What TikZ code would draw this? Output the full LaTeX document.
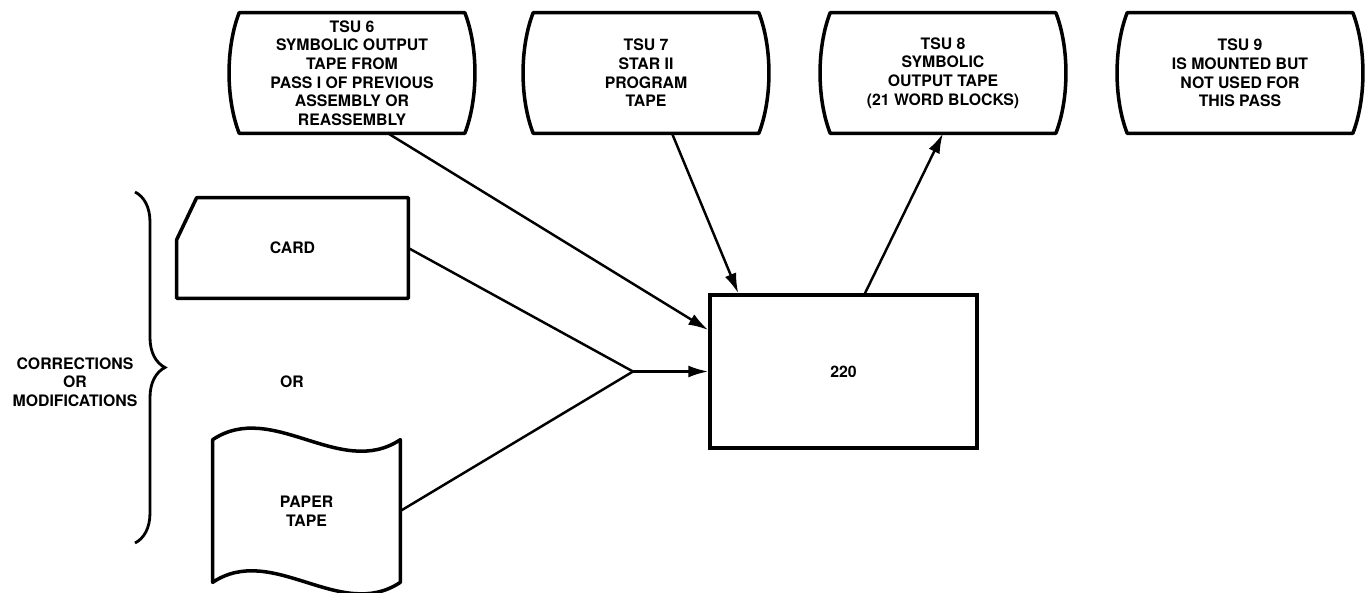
\documentclass[tikz,border=0pt]{standalone}
\usepackage{fontspec}
\setmainfont{TeX Gyre Heros}
\usetikzlibrary{arrows.meta,decorations.pathreplacing}
\tikzset{
  tsu/.style={minimum width=4.5cm, minimum height=2.4cm, inner sep=0pt, align=center},
  cardbox/.style={minimum width=4.62cm, minimum height=2cm, inner sep=0pt},
  tapebox/.style={minimum width=3.74cm, minimum height=2.84cm, inner sep=0pt, align=center},
  unitbox/.style={draw, line width=2pt, minimum width=5.34cm, minimum height=3.06cm, inner sep=0pt},
  shapeline/.style={line width=2pt, line join=round},
  joinline/.style={line width=1.4pt},
  flow/.style={line width=1.4pt, -{Latex[length=4mm,width=2.4mm]}}
}

\begin{document}
\begin{tikzpicture}[x=0.02cm, y=-0.02cm,
  every node/.style={font=\bfseries\fontsize{9}{10.6}\selectfont}]
  \useasboundingbox (0,0) rectangle (1366,592);

  % tape units along the top
  \node[tsu] (tsu6) at (352,73) {TSU 6\\SYMBOLIC OUTPUT\\TAPE FROM\\PASS I OF PREVIOUS\\ASSEMBLY OR\\REASSEMBLY};
  \node[tsu] (tsu7) at (646,73) {TSU 7\\STAR II\\PROGRAM\\TAPE};
  \node[tsu] (tsu8) at (943,73) {TSU 8\\SYMBOLIC\\OUTPUT TAPE\\(21 WORD BLOCKS)};
  \node[tsu] (tsu9) at (1240,73) {TSU 9\\IS MOUNTED BUT\\NOT USED FOR\\THIS PASS};
  \foreach \t in {tsu6,tsu7,tsu8,tsu9}
    \draw[shapeline] (\t.north west) -- (\t.north east)
      .. controls +(0.27cm,-0.7cm) and +(0.27cm,0.7cm) .. (\t.south east)
      -- (\t.south west)
      .. controls +(-0.27cm,0.7cm) and +(-0.27cm,-0.7cm) .. cycle;

  % corrections input
  \node[cardbox] (card) at (292.5,248) {CARD};
  \draw[shapeline] (card.south west) -- ([yshift=-0.84cm]card.north west)
    -- ([xshift=0.4cm]card.north west) -- (card.north east) -- (card.south east) -- cycle;
  \node (ortext) at (292,382) {OR};
  \node[tapebox] (ptape) at (306.5,511) {PAPER\\TAPE};
  \draw[shapeline] (ptape.north west) .. controls +(60,-40) and +(-60,40) .. (ptape.north east)
    -- (ptape.south east) .. controls +(-60,40) and +(60,-40) .. (ptape.south west) -- cycle;

  \coordinate (bracetop) at (135,192);
  \coordinate (bracebot) at (135,543);
  \draw[line width=1.6pt, decorate, decoration={brace, amplitude=0.6cm}] (bracetop) -- (bracebot);
  \node[align=center] (corr) at (75,382) {CORRECTIONS\\OR\\MODIFICATIONS};

  % computer
  \node[unitbox] (unit) at (843.5,371.5) {220};

  \coordinate (join) at (633,371.5);
  \draw[joinline] (card.east) -- (join);
  \draw[joinline] (ptape.east) -- (join);
  \draw[flow] (join) -- (unit.west);
  \draw[flow] ([xshift=0.72cm]tsu6.south) -- ([yshift=0.83cm]unit.west);
  \draw[flow] ([xshift=0.52cm]tsu7.south) -- ([xshift=0.6cm]unit.north west);
  \draw[flow] ([xshift=0.43cm]unit.north) -- (tsu8.south);
\end{tikzpicture}
\end{document}
